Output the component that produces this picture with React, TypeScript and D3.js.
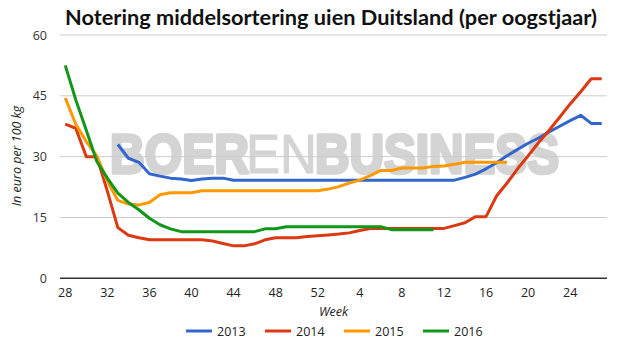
import React from "react";
import * as d3 from "d3";

const weeks: number[] = [28,29,30,31,32,33,34,35,36,37,38,39,40,41,42,43,44,45,46,47,48,49,50,51,52,1,2,3,4,5,6,7,8,9,10,11,12,13,14,15,16,17,18,19,20,21,22,23,24,25,26,27];
const tickWeeks: number[] = [28,32,36,40,44,48,52,4,8,12,16,20,24];
const yTicks: number[] = [0,15,30,45,60];

const s2013: (number|null)[] = [null,null,null,null,null,33,29.6,28.6,25.8,25.2,24.7,24.5,24.1,24.5,24.7,24.7,24.2,24.2,24.2,24.2,24.2,24.2,24.2,24.2,24.2,24.2,24.2,24.2,24.2,24.2,24.2,24.2,24.2,24.2,24.2,24.2,24.2,24.2,24.9,25.7,27.0,28.5,30.2,31.8,33.3,34.6,36.1,37.5,38.9,40.2,38.2,38.2];
const s2014: (number|null)[] = [38,37,30,30,21.5,12.5,10.6,10.0,9.5,9.5,9.5,9.5,9.5,9.5,9.2,8.6,8.0,8.0,8.5,9.5,10.0,10.0,10.0,10.3,10.5,10.7,10.9,11.2,11.8,12.3,12.3,12.3,12.3,12.3,12.3,12.3,12.3,13.0,13.7,15.2,15.2,20.3,23.5,27.0,30.2,33.5,36.5,39.7,43.0,46.0,49.2,49.2];
const s2015: (number|null)[] = [44.5,38,33.7,30.2,24,19.2,18.3,18.1,18.7,20.6,21.1,21.1,21.1,21.6,21.6,21.6,21.6,21.6,21.6,21.6,21.6,21.6,21.6,21.6,21.6,22.0,22.6,23.5,24.2,25.3,26.6,26.6,27.2,27.2,27.2,27.6,27.7,28.1,28.6,28.6,28.6,28.6,28.6,null,null,null,null,null,null,null,null,null];
const s2016: (number|null)[] = [52.5,44,36.5,28.8,24.7,21.0,18.7,16.9,14.8,13.2,12.2,11.5,11.5,11.5,11.5,11.5,11.5,11.5,11.5,12.2,12.2,12.7,12.7,12.7,12.7,12.7,12.7,12.7,12.7,12.7,12.7,12.0,12.0,12.0,12.0,12.0,null,null,null,null,null,null,null,null,null,null,null,null,null,null,null,null];

const seriesNames: string[] = ["2013","2014","2015","2016"];
const seriesColors: string[] = ["#3366cc","#dc3912","#ff9900","#109618"];
const seriesData = [s2013, s2014, s2015, s2016];

const title = "Notering middelsortering uien Duitsland (per oogstjaar)";
const yTitle = "In euro per 100 kg";
const xTitle = "Week";

export default function App() {
  const W = 621, H = 345;
  const x = d3.scaleLinear().domain([-0.5, weeks.length - 0.5]).range([60, 607]);
  const y = d3.scaleLinear().domain([0, 60]).range([278.3, 35]);
  const line = d3.line<number|null>()
    .defined(d => d !== null)
    .x((_, i) => x(i))
    .y(d => y(d as number));
  const font = "'Open Sans', sans-serif";
  const wmFont = "'Liberation Sans', Arial, sans-serif";
  const legendX = [186, 265, 344, 423];
  return (
    <svg width={W} height={H} style={{ position: "absolute", left: 0, top: 0, background: "#fff" }}>
      <rect width={W} height={H} fill="#fff" />
      <text x={65} y={25} fontFamily="Lato, sans-serif" fontWeight={700} fontSize={21} fill="#111" textLength={532} lengthAdjust="spacingAndGlyphs">{title}</text>
      <g fill="#d4d4d4" stroke="#d4d4d4" strokeLinejoin="round" fontFamily={wmFont} fontSize={55}>
        <text x={110} y={173} fontWeight={700} strokeWidth={3.5} textLength={139} lengthAdjust="spacingAndGlyphs">BOER</text>
        <text x={246} y={173} fontWeight={400} strokeWidth={1} textLength={71} lengthAdjust="spacingAndGlyphs">EN</text>
        <text x={315} y={173} fontWeight={700} strokeWidth={3.5} textLength={244} lengthAdjust="spacingAndGlyphs">BUSINESS</text>
      </g>
      {yTicks.filter(t => t > 0).map(t => (
        <line key={t} x1={60} x2={607} y1={y(t)} y2={y(t)} stroke="#cccccc" strokeWidth={1} />
      ))}
      {yTicks.map(t => (
        <text key={"l" + t} x={47} y={y(t) + 4.5} textAnchor="end" fontFamily={font} fontSize={12.5} fill="#333">{t}</text>
      ))}
      <text transform={`translate(21,156) rotate(-90)`} textAnchor="middle" fontFamily={font} fontStyle="italic" fontSize={12.5} fill="#222">{yTitle}</text>
      {seriesData.map((s, k) => (
        <path key={k} d={line(s) || ""} fill="none" stroke={seriesColors[k]} strokeWidth={3} strokeLinejoin="round" />
      ))}
      <line x1={60} x2={607} y1={y(0)} y2={y(0)} stroke="#333" strokeWidth={1.5} />
      {tickWeeks.map(w => {
        const i = weeks.indexOf(w);
        return <text key={"x" + w} x={x(i)} y={297} textAnchor="middle" fontFamily={font} fontSize={12.5} fill="#222">{w}</text>;
      })}
      <text x={333.5} y={316} textAnchor="middle" fontFamily={font} fontStyle="italic" fontSize={12.5} fill="#222">{xTitle}</text>
      {seriesNames.map((n, k) => (
        <g key={n}>
          <line x1={legendX[k]} x2={legendX[k] + 26} y1={331} y2={331} stroke={seriesColors[k]} strokeWidth={3} />
          <text x={legendX[k] + 31} y={335.5} fontFamily={font} fontSize={12.5} fill="#222">{n}</text>
        </g>
      ))}
    </svg>
  );
}
